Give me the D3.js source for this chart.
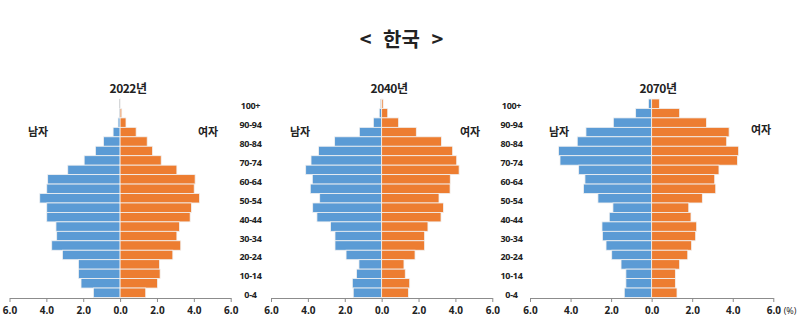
<!DOCTYPE html>
<html><head><meta charset="utf-8">
<script src="https://cdn.jsdelivr.net/npm/d3@7"></script>
<style>
html,body{margin:0;padding:0;background:#fff;}
svg{display:block;}
text{font-family:"Noto Sans CJK KR","Noto Sans",sans-serif;fill:#222;}
</style></head>
<body>
<svg id="chart" width="800" height="333"></svg>
<script>
const mainTitle = "< 한국 >";
const ages = ["100+","95-99","90-94","85-89","80-84","75-79","70-74","65-69","60-64","55-59","50-54","45-49","40-44","35-39","30-34","25-29","20-24","15-19","10-14","5-9","0-4"];
const years = ["2022년","2040년","2070년"];
const male2022 = [0.01,0.02,0.11,0.38,0.90,1.34,1.95,2.84,3.93,3.98,4.36,3.98,3.98,3.48,3.44,3.71,3.13,2.26,2.26,2.12,1.45];
const female2022 = [0.03,0.09,0.32,0.87,1.47,1.76,2.23,3.08,4.07,4.02,4.31,3.87,3.80,3.22,3.08,3.29,2.86,2.14,2.17,2.03,1.39];
const male2040 = [0.02,0.13,0.45,1.21,2.55,3.42,3.83,4.12,3.76,3.87,3.36,3.74,3.51,2.77,2.53,2.53,1.93,1.23,1.36,1.59,1.54];
const female2040 = [0.08,0.33,0.92,1.88,3.24,3.85,4.07,4.20,3.72,3.71,3.11,3.35,3.22,2.51,2.33,2.33,1.81,1.21,1.28,1.52,1.45];
const male2070 = [0.16,0.79,1.89,3.24,3.67,4.59,4.52,3.60,3.29,3.36,2.65,1.91,2.09,2.45,2.43,2.25,1.97,1.51,1.27,1.27,1.35];
const female2070 = [0.38,1.38,2.70,3.82,3.70,4.29,4.23,3.32,3.11,3.16,2.50,1.83,1.94,2.22,2.17,1.97,1.78,1.38,1.17,1.17,1.25];
const tickValues = [-6,-4,-2,0,2,4,6];
const maleLabel = "남자", femaleLabel = "여자";
const unitLabel = "(%)";

const maleSeries = [male2022, male2040, male2070];
const femaleSeries = [female2022, female2040, female2070];

const svg = d3.select("#chart");
const blue = "#5B9BD5", orange = "#ED7D31", axisColor = "#8c8c8c";

// layout
const panels = [
  {x0: 9.5, x1: 230.7, title: 128, maleX: 38, femaleX: 208},
  {x0: 271, x1: 492.3, title: 389, maleX: 300, femaleX: 470},
  {x0: 530, x1: 773.3, title: 658, maleX: 559, femaleX: 761}
];
const labelCols = [250.5, 511.5];
const yTop = 99, yBot = 297.5;

const y = d3.scaleBand().domain(ages).range([yTop, yBot]).padding(0);

svg.append("text").attr("x", 401.5).attr("y", 38).attr("text-anchor", "middle")
  .attr("dominant-baseline", "central").attr("font-size", 20).attr("font-weight", "bold")
  .attr("word-spacing", 7)
  .text(mainTitle);

panels.forEach((p, i) => {
  const x = d3.scaleLinear().domain([-6, 6]).range([p.x0, p.x1]);
  const g = svg.append("g");
  // zero line
  g.append("line").attr("x1", x(0) - 0.5).attr("x2", x(0) - 0.5)
    .attr("y1", yTop).attr("y2", yBot).attr("stroke", "#a0a0a0").attr("stroke-width", 1);
  // male bars
  g.selectAll(".m").data(maleSeries[i]).join("rect")
    .attr("x", d => x(-d)).attr("width", d => x(0) - x(-d))
    .attr("y", (d, j) => y(ages[j])).attr("height", y.bandwidth())
    .attr("fill", blue).attr("stroke", "#f2f2f2").attr("stroke-width", 0.8);
  g.selectAll(".f").data(femaleSeries[i]).join("rect")
    .attr("x", x(0)).attr("width", d => x(d) - x(0))
    .attr("y", (d, j) => y(ages[j])).attr("height", y.bandwidth())
    .attr("fill", orange).attr("stroke", "#f2f2f2").attr("stroke-width", 0.8);
  // axis
  const ax = d3.axisBottom(x).tickValues(tickValues).tickSize(4).tickSizeOuter(0)
    .tickFormat(d => d3.format(".1f")(Math.abs(d)));
  const axG = g.append("g").attr("transform", `translate(0,${yBot + 0.5})`).call(ax);
  axG.select(".domain").attr("stroke", axisColor);
  axG.selectAll(".tick line").attr("stroke", axisColor);
  axG.selectAll(".tick text").attr("font-size", 10).attr("font-weight", "bold")
    .attr("dy", "0.85em").attr("fill", "#222")
    .style("font-family", "'Open Sans','Liberation Sans',sans-serif");
  // titles
  g.append("text").attr("x", p.title).attr("y", 87).attr("text-anchor", "middle")
    .attr("dominant-baseline", "central").attr("font-size", 12).attr("font-weight", "bold")
    .attr("letter-spacing", -0.5).text(years[i]);
  g.append("text").attr("x", p.maleX).attr("y", 131).attr("text-anchor", "middle")
    .attr("dominant-baseline", "central").attr("font-size", 11).attr("font-weight", "bold")
    .text(maleLabel);
  g.append("text").attr("x", p.femaleX).attr("y", i === 2 ? 129 : 131).attr("text-anchor", "middle")
    .attr("dominant-baseline", "central").attr("font-size", 11).attr("font-weight", "bold")
    .text(femaleLabel);
});

// age labels
labelCols.forEach(cx => {
  svg.append("g").selectAll("text").data(ages.filter((a, j) => j % 2 === 0)).join("text")
    .attr("x", cx).attr("y", d => y(d) + y.bandwidth() / 2 + 2)
    .attr("text-anchor", "middle").attr("dominant-baseline", "central")
    .attr("font-size", 9).attr("font-weight", "bold").attr("fill", "#333")
    .style("font-family", "'Open Sans','Liberation Sans',sans-serif")
    .attr("letter-spacing", -0.3)
    .text(d => d);
});

svg.append("text").attr("x", 790).attr("y", 314).attr("text-anchor", "middle")
  .attr("font-size", 9).attr("fill", "#333")
  .style("font-family", "'Open Sans','Liberation Sans',sans-serif")
  .text(unitLabel);
</script>
</body></html>
